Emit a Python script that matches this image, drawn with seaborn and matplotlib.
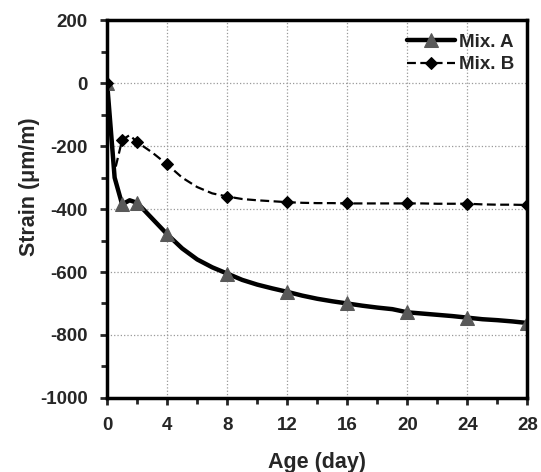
import numpy as np
import pandas as pd
import matplotlib
matplotlib.use('Agg')
import matplotlib.pyplot as plt
import seaborn as sns
from matplotlib.ticker import MultipleLocator

# Data (daily readings, markers shown on selected days)
days = [0, 0.5, 1, 1.5, 2, 3, 4, 5, 6, 7, 8, 9, 10, 11, 12, 13, 14, 15, 16,
        17, 18, 19, 20, 21, 22, 23, 24, 25, 26, 27, 28]
mix_a = [0, -300, -385, -372, -380, -430, -480, -525, -560, -585, -605, -625, -640,
         -652, -663, -675, -685, -693, -700, -707, -713, -718, -728, -732, -736,
         -740, -745, -750, -753, -757, -762]
mix_b = [0, -280, -180, -165, -187, -220, -258, -300, -330, -350, -360, -368, -372,
         -375, -378, -380, -381, -381, -382, -382, -382, -382, -382, -382, -383,
         -383, -383, -385, -386, -386, -387]
marker_days = [0, 1, 2, 4, 8, 12, 16, 20, 24, 28]
mark_idx = [days.index(d) for d in marker_days]

sns.set_style('white')
plt.rcParams['font.family'] = ['Liberation Sans', 'DejaVu Sans']
plt.rcParams['font.weight'] = 'bold'
plt.rcParams['axes.unicode_minus'] = False

fig, ax = plt.subplots(figsize=(5.41, 4.72), dpi=100)

sns.lineplot(x=days, y=mix_a, ax=ax, color='black', linewidth=3.2, marker='^',
             markersize=9.5, markerfacecolor='#595959', markeredgecolor='#595959',
             markevery=mark_idx, label='Mix. A')
sns.lineplot(x=days, y=mix_b, ax=ax, color='black', linewidth=1.6, linestyle=(0, (4, 2)),
             marker='D', markersize=6.5, markerfacecolor='black', markeredgecolor='black',
             markevery=mark_idx, label='Mix. B')

ax.set_xlim(0, 28)
ax.set_ylim(-1000, 200)
ax.xaxis.set_major_locator(MultipleLocator(4))
ax.xaxis.set_minor_locator(MultipleLocator(2))
ax.yaxis.set_major_locator(MultipleLocator(200))
ax.yaxis.set_minor_locator(MultipleLocator(100))
ax.tick_params(which='major', direction='out', length=5, width=2, labelsize=13.5, pad=9)
ax.tick_params(which='minor', direction='out', length=4, width=2)
ax.tick_params(left=True, bottom=True, which='both')
for lbl in ax.get_xticklabels() + ax.get_yticklabels():
    lbl.set_fontweight('bold')
ax.grid(True, which='major', color='#999999', linestyle=':', linewidth=0.9)
for s in ax.spines.values():
    s.set_linewidth(2.5)
    s.set_color('black')

ax.set_xlabel('Age (day)', fontsize=15.5, fontweight='bold', labelpad=13)
ax.set_ylabel('Strain (\u03bcm/m)', fontsize=15.5, fontweight='bold')
ax.yaxis.set_label_coords(-0.16, 0.56)

leg = ax.legend(loc='upper right', frameon=False, handlelength=2.6,
                handletextpad=0.2, borderaxespad=0.3, labelspacing=0.3,
                prop={'size': 13.5, 'weight': 'bold'})

plt.subplots_adjust(left=0.198, right=0.975, top=0.957, bottom=0.157)
plt.savefig('out.png', dpi=100)
